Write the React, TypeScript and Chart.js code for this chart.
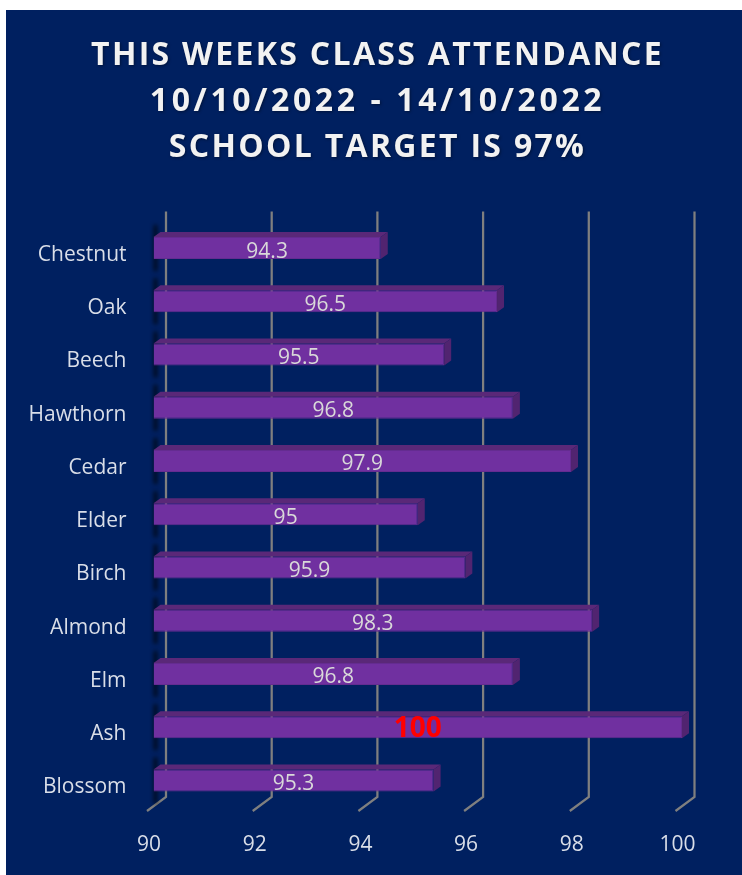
import React, { useEffect, useRef } from "react";
import { Chart, registerables } from "chart.js";

Chart.register(...registerables);

const titleLines = ["THIS WEEKS CLASS ATTENDANCE", "10/10/2022 - 14/10/2022", "SCHOOL TARGET IS 97%"];
const classes = ["Chestnut", "Oak", "Beech", "Hawthorn", "Cedar", "Elder", "Birch", "Almond", "Elm", "Ash", "Blossom"];
const attendance = [94.3, 96.5, 95.5, 96.8, 97.9, 95, 95.9, 98.3, 96.8, 100, 95.3];
const axisMin = 90;
const axisMax = 100;
const axisStep = 2;

const NAVY = "#002060";
const FONT = "'Open Sans', sans-serif";

const panel = {
  id: "panel",
  beforeDraw(chart: any) {
    const { ctx, width, height } = chart;
    ctx.save();
    ctx.fillStyle = "#ffffff";
    ctx.fillRect(0, 0, width, height);
    ctx.fillStyle = NAVY;
    ctx.fillRect(6, 10, width - 6, height - 10);
    ctx.restore();
  },
};

const titleStyle = {
  id: "titleStyle",
  afterLayout(chart: any) {
    const tb = chart.titleBlock;
    if (!tb || tb.__wrapped) return;
    tb.__wrapped = true;
    const draw = tb.draw;
    tb.draw = function () {
      const ctx = chart.ctx;
      const fill = ctx.fillText;
      ctx.save();
      ctx.translate(36.5, 0);
      ctx.shadowColor = "rgba(0,0,0,0.4)";
      ctx.shadowBlur = 3;
      ctx.shadowOffsetX = 1;
      ctx.shadowOffsetY = 1;
      ctx.fillText = function (text: string, ...rest: any[]) {
        ctx.letterSpacing = text === titleLines[1] ? "3.6px" : "2.3px";
        fill.call(ctx, text, ...rest);
      };
      draw.call(tb);
      delete ctx.fillText;
      ctx.restore();
    };
  },
};

const frame3d = {
  id: "frame3d",
  beforeDatasetsDraw(chart: any) {
    const { ctx, scales, chartArea } = chart;
    const x = scales.x;
    ctx.save();
    ctx.strokeStyle = "#7f7f7f";
    ctx.lineWidth = 2.25;
    for (const t of x.ticks) {
      const px = x.getPixelForValue(t.value);
      ctx.beginPath();
      ctx.moveTo(px + 12.5, chartArea.top - 10);
      ctx.lineTo(px + 12.5, chartArea.bottom - 10);
      ctx.lineTo(px - 6.5, chartArea.bottom + 4);
      ctx.stroke();
    }
    ctx.restore();
    const meta = chart.getDatasetMeta(0);
    ctx.save();
    ctx.filter = "blur(2px)";
    ctx.fillStyle = "rgba(0,0,0,0.85)";
    meta.data.forEach((bar: any) => {
      const p = bar.getProps(["base", "y", "height"], true);
      ctx.fillRect(p.base + 0.5, p.y - p.height / 2 - 12, 3, 46);
    });
    ctx.restore();
    ctx.save();
    meta.data.forEach((bar: any) => {
      const p = bar.getProps(["x", "y", "base", "height"], true);
      const top = p.y - p.height / 2;
      const bottom = p.y + p.height / 2;
      ctx.fillStyle = "#5a2878";
      ctx.beginPath();
      ctx.moveTo(p.base, top);
      ctx.lineTo(p.base + 7, top - 5);
      ctx.lineTo(p.x + 7, top - 5);
      ctx.lineTo(p.x, top);
      ctx.closePath();
      ctx.fill();
      ctx.fillStyle = "#512470";
      ctx.beginPath();
      ctx.moveTo(p.x, top);
      ctx.lineTo(p.x + 7, top - 5);
      ctx.lineTo(p.x + 7, bottom - 5);
      ctx.lineTo(p.x, bottom);
      ctx.closePath();
      ctx.fill();
    });
    ctx.restore();
  },
};

const valueLabels = {
  id: "valueLabels",
  afterDatasetsDraw(chart: any) {
    const { ctx } = chart;
    const meta = chart.getDatasetMeta(0);
    ctx.save();
    ctx.textAlign = "center";
    ctx.textBaseline = "middle";
    meta.data.forEach((bar: any, i: number) => {
      const p = bar.getProps(["x", "y", "base"], true);
      const v = attendance[i];
      const top = v === axisMax;
      ctx.fillStyle = top ? "#ff0000" : "#d9d9d9";
      ctx.font = top ? `bold 28px ${FONT}` : `21px ${FONT}`;
      ctx.fillText(String(v), (p.x + p.base) / 2, p.y + (top ? 2 : 3.5));
    });
    ctx.restore();
  },
};

export default function App() {
  const ref = useRef<HTMLCanvasElement>(null);
  useEffect(() => {
    document.body.style.margin = "0";
    document.body.style.background = "#ffffff";
    const chart = new Chart(ref.current as HTMLCanvasElement, {
      type: "bar",
      data: {
        labels: classes,
        datasets: [
          {
            label: "Attendance",
            data: attendance,
            base: axisMin,
            backgroundColor: "#7030a0",
            borderColor: "#642c90",
            borderWidth: 1,
            barThickness: 22,
            inflateAmount: 0,
          } as any,
        ],
      },
      options: {
        indexAxis: "y",
        animation: false,
        responsive: false,
        devicePixelRatio: 1,
        layout: { padding: { left: 0, right: 60, top: 0, bottom: 0 } },
        plugins: {
          legend: { display: false },
          tooltip: { enabled: false },
          title: {
            display: true,
            text: titleLines,
            color: "#f2f2f2",
            font: { family: FONT, size: 32, weight: "bold", lineHeight: 46 / 32 },
            padding: { top: 33, bottom: 50.4 },
          },
        },
        scales: {
          x: {
            type: "linear",
            min: axisMin,
            max: axisMax,
            grid: { display: false },
            border: { display: false },
            afterFit: (s: any) => {
              s.height = 68;
            },
            ticks: {
              stepSize: axisStep,
              color: "#d9dee8",
              font: { family: FONT, size: 21 },
              padding: 17,
              labelOffset: -4.5,
              maxRotation: 0,
            },
          },
          y: {
            type: "category",
            grid: { display: false },
            border: { display: false },
            afterFit: (s: any) => {
              s.width = 153.5;
            },
            ticks: {
              color: "#d9dee8",
              font: { family: FONT, size: 21 },
              padding: 19,
              labelOffset: 7,
            },
          },
        },
      },
      plugins: [panel, titleStyle, frame3d, valueLabels],
    } as any);
    return () => chart.destroy();
  }, []);
  return <canvas ref={ref} width={742} height={875} style={{ display: "block", width: 742, height: 875 }} />;
}
